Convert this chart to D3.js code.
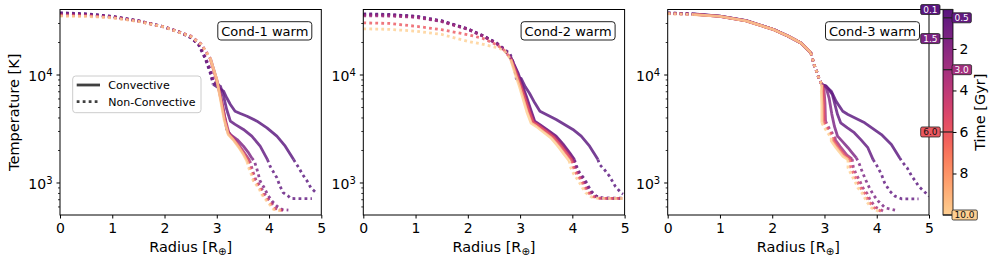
<!DOCTYPE html>
<html>
<head>
<meta charset="utf-8">
<script src="https://cdn.jsdelivr.net/npm/d3@7"></script>
<style>
  body { margin: 0; background: #fff; }
  svg { display: block; font-family: "DejaVu Sans", sans-serif; }
</style>
</head>
<body>
<div id="chart"></div>
<script>
// ------- data -------
const times = [0.1, 0.5, 1.5, 3.0, 6.0, 10.0];
const panelTitles = ["Cond-1 warm", "Cond-2 warm", "Cond-3 warm"];
const xTicks = [0, 1, 2, 3, 4, 5];
const yTicks = [1e3, 1e4];
const yMinor = [600, 700, 800, 900, 2000, 3000, 4000, 5000, 6000, 7000, 8000, 9000, 20000, 30000];
const cbTicks = [2, 4, 6, 8];
const legendItems = [["c", "Convective"], ["n", "Non-Convective"]];

// one profile per time: list of layers ["n" non-convective | "c" convective, [[radius, T], ...]]
const cond1 = [
  [["n", [[0,37300],[0.5,36500],[1.0,34600],[1.5,31500],[2.0,27600],[2.3,24600],[2.5,22000],[2.65,19000],[2.78,14000],[2.87,10500],[2.93,8100]]],
   ["c", [[3.13,7010],[3.19,6090],[3.26,5280],[3.35,4570],[3.45,4350],[3.58,4110],[3.77,3700],[3.96,3210],[4.15,2690],[4.31,2170],[4.47,1630]]],
   ["n", [[4.57,1370],[4.64,1190],[4.73,1030],[4.80,893],[4.90,805],[4.93,790]]]],
  [["n", [[0,37000],[0.5,36300],[1.0,34500],[1.5,31400],[2.0,27500],[2.3,24500],[2.5,22000],[2.65,19000],[2.78,14200],[2.87,10800],[2.94,8300]]],
   ["c", [[3.07,7800],[3.13,6300],[3.19,4740],[3.26,3700],[3.35,3450],[3.51,3100],[3.67,2690],[3.83,2170],[3.97,1630]]],
   ["n", [[4.02,1415],[4.15,1105],[4.21,925],[4.27,807],[4.37,747],[4.42,711],[4.6,708],[4.82,708]]]],
  [["n", [[0,36500],[0.5,36000],[1.0,34300],[1.5,31300],[2.0,27500],[2.3,24500],[2.5,22100],[2.65,19200],[2.78,14500],[2.88,11000],[2.95,8500]]],
   ["c", [[3.03,8070],[3.10,5470],[3.16,3830],[3.19,3100],[3.26,2780],[3.39,2500],[3.51,2170],[3.61,1880],[3.67,1690]]],
   ["n", [[3.72,1575],[3.77,1320],[3.83,1030],[3.91,893],[3.97,775],[4.06,671],[4.15,604],[4.25,562],[4.37,555]]]],
  [["n", [[0,35800],[0.5,35300],[1.0,34000],[1.5,31200],[2.0,27600],[2.5,22800],[2.7,19200],[2.88,14000]]],
   ["c", [[3.01,8600],[3.09,5700],[3.16,3900],[3.23,2900],[3.32,2560],[3.43,2200],[3.54,1840],[3.63,1600]]],
   ["n", [[3.66,1420],[3.70,1230],[3.75,1050],[3.84,910],[3.91,790],[4.01,680],[4.13,575],[4.30,548]]]],
  [["n", [[0,35200],[0.5,34900],[1.0,33700],[1.5,31100],[2.0,27500],[2.5,22600],[2.7,19100],[2.87,14200]]],
   ["c", [[3.00,8800],[3.08,5800],[3.15,3860],[3.22,2830],[3.31,2530],[3.42,2170],[3.52,1830],[3.60,1580]]],
   ["n", [[3.63,1400],[3.68,1210],[3.72,1040],[3.82,900],[3.88,780],[3.98,675],[4.11,568],[4.29,545]]]],
  [["n", [[0,34700],[0.5,34500],[1.0,33500],[1.5,31000],[2.0,27500],[2.5,22500],[2.7,19000],[2.87,14400]]],
   ["c", [[3.00,9000],[3.07,5900],[3.14,3830],[3.22,2780],[3.31,2500],[3.41,2150],[3.51,1815],[3.58,1560]]],
   ["n", [[3.61,1370],[3.66,1190],[3.70,1030],[3.80,893],[3.86,775],[3.96,671],[4.09,562],[4.28,542]]]]
];

const cond2 = [
  [["n", [[0,36500],[0.5,36000],[1.0,34700],[1.5,31500],[2.0,26500],[2.3,22800],[2.55,19600],[2.7,17200],[2.81,15500],[2.88,12500],[2.93,9000]]],
   ["c", [[3.02,9200],[3.10,7700],[3.18,6700],[3.28,5470],[3.38,4570],[3.53,4200],[3.69,3830],[4.01,3100],[4.17,2690],[4.33,2170],[4.49,1630]]],
   ["n", [[4.52,1470],[4.61,1320],[4.71,1145],[4.82,925],[4.93,804],[4.97,780]]]],
  [["n", [[0,36000],[0.5,35700],[1.0,34500],[1.5,31300],[2.0,26400],[2.3,22700],[2.55,19500],[2.7,17000],[2.82,14500]]],
   ["c", [[2.96,10370],[3.04,8100],[3.12,6300],[3.20,4800],[3.28,3700],[3.38,3440],[3.53,3050],[3.69,2690],[3.82,2280],[3.95,1880],[4.04,1630]]],
   ["n", [[4.08,1415],[4.14,1230],[4.24,1067],[4.30,938],[4.36,832],[4.46,747],[4.58,718],[4.75,715],[4.96,715]]]],
  [["n", [[0,35500],[0.5,35300],[1.0,34200],[1.5,31100],[2.0,26300],[2.3,22600],[2.55,19400],[2.7,17000],[2.82,14400]]],
   ["c", [[2.95,10300],[3.03,8000],[3.11,6200],[3.19,4750],[3.27,3680],[3.37,3420],[3.52,3030],[3.68,2670],[3.81,2260],[3.94,1870],[4.03,1620]]],
   ["n", [[4.07,1400],[4.13,1220],[4.22,1060],[4.28,930],[4.35,825],[4.45,745],[4.57,716],[4.75,714],[4.96,714]]]],
  [["n", [[0,35000],[0.5,34800],[1.0,33900],[1.5,30900],[2.0,26200],[2.3,22500],[2.55,19300],[2.7,16900],[2.82,14200]]],
   ["c", [[2.94,10200],[3.02,7900],[3.10,6100],[3.18,4700],[3.26,3650],[3.36,3400],[3.51,3000],[3.66,2650],[3.79,2240],[3.92,1850],[4.01,1610]]],
   ["n", [[4.05,1390],[4.11,1210],[4.20,1050],[4.26,920],[4.33,818],[4.43,742],[4.55,715],[4.75,713],[4.96,713]]]],
  [["n", [[0,30100],[0.5,29700],[1.0,28000],[1.5,26000],[2.0,23400],[2.3,21500],[2.55,18900],[2.7,16700],[2.82,14000]]],
   ["c", [[2.93,10100],[3.01,7800],[3.09,6000],[3.17,4600],[3.25,3600],[3.35,3350],[3.50,2960],[3.64,2620],[3.77,2210],[3.90,1830],[3.99,1600]]],
   ["n", [[4.02,1380],[4.08,1200],[4.17,1040],[4.23,910],[4.30,810],[4.40,738],[4.52,714],[4.75,712],[4.96,712]]]],
  [["n", [[0,26500],[0.5,26200],[1.0,25200],[1.5,23500],[2.0,20300],[2.3,19000],[2.55,17800],[2.7,16700],[2.82,13800]]],
   ["c", [[2.91,10000],[2.99,7700],[3.06,5900],[3.13,4500],[3.21,3550],[3.31,3300],[3.45,2920],[3.59,2590],[3.72,2180],[3.85,1800],[3.94,1590]]],
   ["n", [[3.97,1370],[4.03,1190],[4.12,1030],[4.19,900],[4.26,800],[4.37,732],[4.49,713],[4.75,711],[4.96,711]]]]
];

const cond3 = [
  [["n", [[0,37300],[0.5,36400]]],
   ["c", [[1.0,34700],[1.5,31500],[2.03,26100],[2.3,22700],[2.55,19600],[2.74,15900]]],
   ["n", [[2.80,12400],[2.86,10350],[2.90,9000],[2.95,8070]]],
   ["c", [[3.03,7800],[3.13,7010],[3.22,5670],[3.35,4570],[3.45,4260],[3.77,3570],[4.09,2780],[4.28,2250],[4.44,1690]]],
   ["n", [[4.48,1570],[4.58,1370],[4.67,1145],[4.74,1030],[4.80,925],[4.90,832],[5.0,747]]]],
  [["n", [[0,37100],[0.5,36300]]],
   ["c", [[1.0,34700],[1.5,31500],[2.03,26100],[2.3,22700],[2.55,19600],[2.74,15900]]],
   ["n", [[2.80,12400],[2.86,10350],[2.90,9000],[2.95,8070]]],
   ["c", [[3.03,7800],[3.15,6540],[3.25,4260],[3.31,3570],[3.44,3200],[3.57,2890],[3.70,2480],[3.83,2100],[3.93,1630]]],
   ["n", [[3.99,1470],[4.09,1190],[4.15,993],[4.25,832],[4.35,747],[4.48,706],[4.65,706],[4.80,706]]]],
  [["n", [[0,36900],[0.5,36200]]],
   ["c", [[1.0,34600],[1.5,31500],[2.03,26100],[2.3,22700],[2.55,19600],[2.74,15900]]],
   ["n", [[2.80,12400],[2.86,10350],[2.90,9000],[2.95,8070]]],
   ["c", [[3.03,7600],[3.09,6000],[3.14,4300],[3.19,3320],[3.25,2690],[3.35,2380],[3.45,2100],[3.53,1880],[3.61,1690]]],
   ["n", [[3.67,1470],[3.73,1230],[3.80,1030],[3.86,893],[3.93,775],[4.03,671],[4.16,582],[4.35,555]]]],
  [["n", [[0,36800],[0.5,36100]]],
   ["c", [[1.0,34600],[1.5,31400],[2.03,26000],[2.3,22700],[2.55,19600],[2.74,15900]]],
   ["n", [[2.80,12400],[2.86,10350],[2.90,9000],[2.95,8070]]],
   ["c", [[2.99,7400],[3.01,5400],[3.02,3700]]],
   ["n", [[3.07,3300],[3.13,2950],[3.20,2650]]],
   ["c", [[3.21,2470],[3.30,2150],[3.43,1790],[3.53,1650]]],
   ["n", [[3.55,1400],[3.60,1210],[3.67,1050],[3.73,900],[3.82,785],[3.88,680],[3.98,590],[4.12,545]]]],
  [["n", [[0,36700],[0.5,36000]]],
   ["c", [[1.0,34500],[1.5,31400],[2.03,26000],[2.3,22700],[2.55,19600],[2.74,15900]]],
   ["n", [[2.80,12400],[2.86,10350],[2.90,9000],[2.95,8070]]],
   ["c", [[2.97,7200],[2.98,5300],[2.99,3640]]],
   ["n", [[3.04,3260],[3.10,2920],[3.17,2620]]],
   ["c", [[3.17,2450],[3.26,2120],[3.39,1770],[3.49,1640]]],
   ["n", [[3.50,1385],[3.56,1200],[3.62,1040],[3.69,896],[3.78,780],[3.84,676],[3.94,586],[4.08,543]]]],
  [["n", [[0,36600],[0.5,35900]]],
   ["c", [[1.0,34500],[1.5,31400],[2.03,26000],[2.3,22700],[2.55,19600],[2.74,15900]]],
   ["n", [[2.80,12400],[2.86,10350],[2.90,9000],[2.95,8070]]],
   ["c", [[2.94,7010],[2.95,5200],[2.95,3570]]],
   ["n", [[3.00,3210],[3.06,2890],[3.13,2590]]],
   ["c", [[3.13,2420],[3.22,2100],[3.35,1750],[3.45,1630]]],
   ["n", [[3.45,1370],[3.51,1190],[3.58,1030],[3.64,893],[3.74,775],[3.80,671],[3.90,582],[4.03,542]]]]
];

const panelData = [cond1, cond2, cond3];

// ------- layout -------
const W = 996, H = 262;
const topY = 9.5, botY = 215;
const panelLeft = [60, 363.3, 667.7];
const panelW = 261.3;
const cb = { x: 943, w: 10 };

const color = t => d3.interpolateMagma(0.27 + 0.63 * (t - 0.1) / 9.9);
const LW = 2.8;
const DOT = "2.8,3.2";

const svg = d3.select("#chart").append("svg")
  .attr("width", W).attr("height", H)
  .attr("viewBox", `0 0 ${W} ${H}`);

const h = botY - topY;
const x = d3.scaleLinear().domain([0, 5]).range([0, panelW]);
const y = d3.scaleLog().domain([500, 40000]).range([h, 0]);
const line = d3.line().x(d => x(d[0])).y(d => y(d[1]));

const styleAxis = sel => {
  sel.select(".domain").remove();
  sel.selectAll("line").attr("stroke", "#000").attr("stroke-width", 1);
  sel.selectAll("text").attr("fill", "#000").style("font-size", "14px")
    .style("font-family", "DejaVu Sans, sans-serif");
};

panelData.forEach((profiles, p) => {
  const g = svg.append("g").attr("transform", `translate(${panelLeft[p]},${topY})`);

  g.append("clipPath").attr("id", "clip" + p)
    .append("rect").attr("width", panelW).attr("height", h);

  const plot = g.append("g").attr("clip-path", `url(#clip${p})`);

  profiles.forEach((layers, i) => {
    let prev = null;
    layers.forEach(([kind, pts]) => {
      const full = prev ? [prev, ...pts] : pts;
      plot.append("path")
        .datum(full)
        .attr("fill", "none")
        .attr("stroke", color(times[i]))
        .attr("stroke-opacity", 0.82)
        .attr("stroke-width", LW)
        .attr("stroke-dasharray", kind === "n" ? DOT : null)
        .attr("stroke-linejoin", "round")
        .attr("d", line);
      prev = pts[pts.length - 1];
    });
  });

  // axes
  g.append("g")
    .attr("transform", `translate(0,${h})`)
    .call(d3.axisBottom(x).tickValues(xTicks).tickSize(3.5).tickPadding(4.9).tickFormat(d3.format("d")))
    .call(styleAxis);

  g.append("g")
    .call(d3.axisLeft(y).tickValues(yMinor).tickSize(2).tickFormat(""))
    .call(styleAxis)
    .selectAll("line").attr("stroke-width", 0.8);

  const ya = g.append("g")
    .call(d3.axisLeft(y).tickValues(yTicks).tickSize(3.5).tickPadding(4))
    .call(styleAxis);
  ya.selectAll(".tick text").each(function (d) {
    const t = d3.select(this).text(null).attr("dy", "0.42em");
    t.append("tspan").text("10");
    t.append("tspan").attr("dy", "-0.5em").style("font-size", "10px").text(Math.round(Math.log10(d)));
  });

  g.append("rect")
    .attr("width", panelW).attr("height", h)
    .attr("fill", "none").attr("stroke", "#000").attr("stroke-width", 1);

  // x label
  const xl = g.append("text")
    .attr("x", panelW / 2).attr("y", h + 37)
    .attr("text-anchor", "middle")
    .style("font-size", "14.5px");
  xl.append("tspan").text("Radius [R");
  xl.append("tspan").style("font-size", "10px").attr("dy", "3").text("\u2295");
  xl.append("tspan").attr("dy", "-3").text("]");

  // panel title box
  const tb = g.append("g");
  const tt = tb.append("text")
    .attr("x", panelW - 13).attr("y", 26.5)
    .attr("text-anchor", "end")
    .style("font-size", "13px")
    .text(panelTitles[p]);
  const bb = tt.node().getBBox();
  tb.insert("rect", "text")
    .attr("x", bb.x - 3.5).attr("y", 12.2)
    .attr("width", bb.width + 7).attr("height", 18.3)
    .attr("rx", 3)
    .attr("fill", "#fff").attr("stroke", "#222").attr("stroke-width", 1);

  if (p === 0) {
    g.append("text")
      .attr("transform", `translate(${14 - panelLeft[0]},${h / 2}) rotate(-90)`)
      .attr("text-anchor", "middle")
      .attr("dy", "0.35em")
      .style("font-size", "14.5px")
      .text("Temperature [K]");

    // legend
    const lg = g.append("g").attr("transform", "translate(12.7,66.5)");
    lg.append("rect")
      .attr("width", 128.3).attr("height", 36.7).attr("rx", 3)
      .attr("fill", "#fff").attr("fill-opacity", 0.8)
      .attr("stroke", "#ccc").attr("stroke-width", 1);
    legendItems.forEach(([kind, label], k) => {
      const ly = 9 + k * 16.7;
      lg.append("line")
        .attr("x1", 4).attr("x2", 27.3).attr("y1", ly).attr("y2", ly)
        .attr("stroke", "#404040").attr("stroke-width", LW)
        .attr("stroke-dasharray", kind === "n" ? DOT : null);
      lg.append("text")
        .attr("x", 35.6).attr("y", ly).attr("dy", "0.35em")
        .style("font-size", "11px")
        .text(label);
    });
  }
});

// ------- colorbar -------
const cbScale = d3.scaleLinear().domain([0.1, 10]).range([topY, botY]);
const defs = svg.append("defs");
const grad = defs.append("linearGradient").attr("id", "cbgrad")
  .attr("x1", 0).attr("x2", 0).attr("y1", 0).attr("y2", 1);
d3.range(0, 1.0001, 0.05).forEach(o => {
  grad.append("stop").attr("offset", o).attr("stop-color", color(0.1 + o * 9.9));
});

svg.append("rect")
  .attr("x", cb.x).attr("y", topY).attr("width", cb.w).attr("height", botY - topY)
  .attr("fill", "url(#cbgrad)");

svg.append("g")
  .attr("transform", `translate(${cb.x + cb.w},0)`)
  .call(d3.axisRight(cbScale).tickValues(cbTicks).tickSize(3.5).tickPadding(3).tickFormat(d3.format("d")))
  .call(styleAxis);

svg.append("rect")
  .attr("x", cb.x).attr("y", topY).attr("width", cb.w).attr("height", botY - topY)
  .attr("fill", "none").attr("stroke", "#000").attr("stroke-width", 0.8);

svg.append("text")
  .attr("transform", `translate(980,${(topY + botY) / 2}) rotate(-90)`)
  .attr("text-anchor", "middle")
  .attr("dy", "0.35em")
  .style("font-size", "14.5px")
  .text("Time [Gyr]");

// time markers on the colorbar
times.forEach((t, i) => {
  const cy = cbScale(t);
  const left = i % 2 === 0;
  svg.append("line")
    .attr("x1", left ? cb.x - 3 : cb.x).attr("x2", left ? cb.x + cb.w : cb.x + cb.w + 1)
    .attr("y1", cy).attr("y2", cy)
    .attr("stroke", "#222").attr("stroke-width", 1.2);
  const lab = t.toFixed(1);
  const tg = svg.append("g");
  const tx = tg.append("text")
    .attr("y", cy).attr("dy", "0.36em")
    .attr("text-anchor", left ? "end" : "start")
    .attr("x", left ? cb.x - 5.5 : cb.x + 11.5)
    .style("font-size", "9px")
    .attr("fill", t >= 6 ? "#111" : "#fff")
    .text(lab);
  const b = tx.node().getBBox();
  tg.insert("rect", "text")
    .attr("x", b.x - 2.5).attr("y", cy - 5)
    .attr("width", b.width + 5).attr("height", 10)
    .attr("rx", 1.5)
    .attr("fill", color(t))
    .attr("stroke", "#222").attr("stroke-width", 0.8);
});
</script>
</body>
</html>
